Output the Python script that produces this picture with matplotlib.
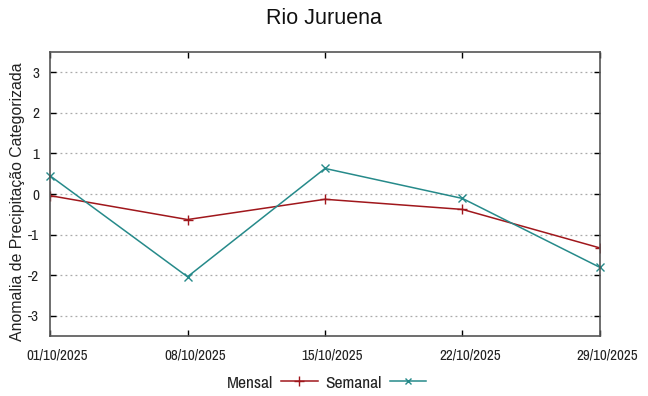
import matplotlib
matplotlib.use("Agg")
import matplotlib.pyplot as plt
import matplotlib.transforms as mtransforms
from matplotlib.lines import Line2D
from matplotlib import font_manager as fm

plt.rcParams['font.family'] = ['Liberation Sans', 'DejaVu Sans']

dates = ["01/10/2025", "08/10/2025", "15/10/2025", "22/10/2025", "29/10/2025"]
days = [1, 8, 15, 22, 29]
mensal = [-0.04, -0.63, -0.13, -0.38, -1.33]
semanal = [0.45, -2.04, 0.63, -0.11, -1.81]
yticks = [-3, -2, -1, 0, 1, 2, 3]

_avail = set(f.name for f in fm.fontManager.ttflist)
_narrow = 'Liberation Sans'
for cand in ['Liberation Sans Narrow', 'Arial Narrow', 'Archivo Narrow', 'PT Sans Narrow',
             'Roboto Condensed', 'Open Sans Condensed', 'Asap Condensed', 'Barlow Semi Condensed']:
    if cand in _avail:
        _narrow = cand
        break
narrow = [_narrow, 'DejaVu Sans']

c_mensal = "#a0171c"
c_semanal = "#268a8a"

fig = plt.figure(figsize=(6.48, 3.96), dpi=100)
ax = fig.add_axes([50/648, 1-336/396, 550/648, 284/396])

ax.plot(days, mensal, color=c_mensal, lw=1.1, marker='+', ms=7, mew=1.0)
ax.plot(days, semanal, color=c_semanal, lw=1.1, marker='x', ms=5.5, mew=1.0, clip_on=False)

ax.set_xlim(1, 29)
ax.set_ylim(-3.5, 3.5)
ax.set_xticks(days)
ax.set_xticklabels([])
offset = mtransforms.ScaledTranslation(7.5/100, 0, fig.dpi_scale_trans)
xtrans = ax.get_xaxis_transform() + offset
for d, lab in zip(days, dates):
    ax.text(d, -20/284, lab, transform=xtrans, ha='center', va='center',
            fontsize=10.8, family=narrow, color='#222222', clip_on=False)
ax.set_yticks(yticks)
ax.set_yticklabels([str(v) for v in yticks], fontsize=11, family=narrow, color='#222222')
ax.tick_params(axis='both', direction='in', length=4, width=1, top=True, right=True, colors='black')
ax.tick_params(axis='y', pad=8, labelcolor='#222222')
ax.yaxis.grid(True, linestyle=(0, (1.5, 2.5)), color='#aaaaaa', lw=0.9)
for s in ax.spines.values():
    s.set_color('#555555')
    s.set_linewidth(1.2)

ax.set_ylabel("Anomalia de Precipitação Categorizada", fontsize=11.4, va='center', color='#222222')
ax.yaxis.set_label_coords((18-50)/550, (336-201.5)/284)
fig.text(0.5, 1-19/396, "Rio Juruena", ha='center', va='center', fontsize=15.5, color='#111111')

handles = [Line2D([], [], color=c_mensal, lw=1.1, marker='+', ms=7),
           Line2D([], [], color=c_semanal, lw=1.1, marker='x', ms=5)]
leg = fig.legend(handles, ["Mensal", "Semanal"], loc='center', bbox_to_anchor=(0.504, 1-383/396),
                 ncol=2, frameon=False, markerfirst=False,
                 handlelength=2.1, columnspacing=0.45, handletextpad=0.45,
                 prop={'family': narrow, 'size': 12.5})
for t in leg.get_texts():
    t.set_color('#222222')

fig.savefig("out.png", dpi=100)
